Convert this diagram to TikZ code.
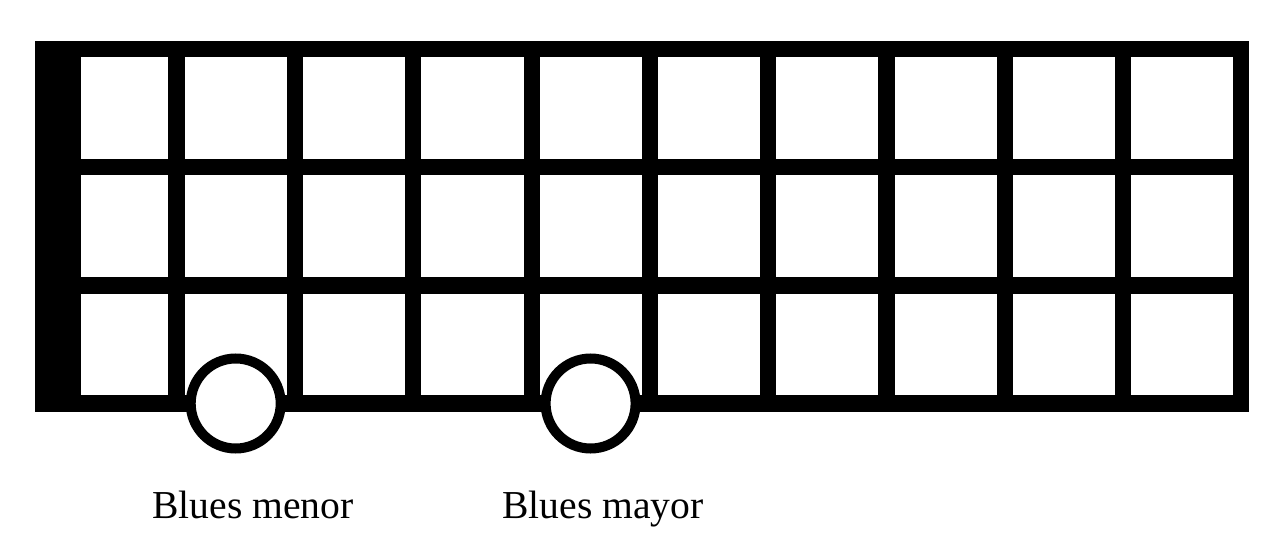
\documentclass[tikz,border=0pt]{standalone}
\usepackage{fontspec}
\setmainfont{Liberation Serif}
\begin{document}
\begin{tikzpicture}[x=1pt,y=-1pt,
  cellbox/.style={fill=white},
  marker/.style={circle,draw=black,line width=10pt,fill=white,minimum size=90pt,inner sep=0pt},
  label/.style={font=\fontsize{39.6}{45}\selectfont,anchor=base,inner sep=0pt}]
\useasboundingbox (0,0) rectangle (1280,553);
% frame
\fill[black] (35,41) rectangle (1249,412);
% cells
\foreach \j in {0,1,2}{
  \pgfmathsetmacro{\ya}{57.3+118.2*\j}
  \pgfmathsetmacro{\yb}{\ya+101.5}
  \fill[cellbox] (81,\ya) rectangle (168.3,\yb);
  \foreach \i in {0,...,8}{
    \pgfmathsetmacro{\xa}{184.7+118.3*\i}
    \pgfmathsetmacro{\xb}{\xa+102.2}
    \fill[cellbox] (\xa,\ya) rectangle (\xb,\yb);
  }
}
% markers
\node[marker] (menor) at (235.7,403.5) {};
\node[marker] (mayor) at (590.6,403.5) {};
% labels
\node[label] (tmenor) at (253,518) {Blues menor};
\node[label] (tmayor) at (603,518) {Blues mayor};
\end{tikzpicture}
\end{document}
